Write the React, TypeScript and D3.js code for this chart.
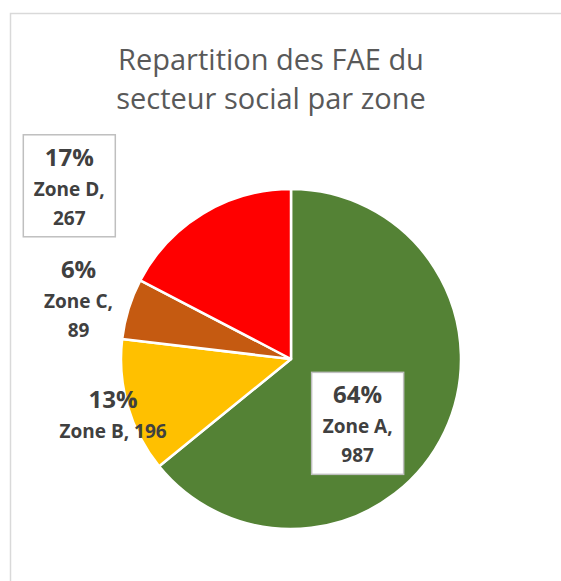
import * as d3 from 'd3';

const ZONES = ['Zone A', 'Zone B', 'Zone C', 'Zone D'];
const COUNTS = [987, 196, 89, 267];
const COLORS = ['#548235', '#FFC000', '#C55A11', '#FF0000'];
const TITLE_LINES = ['Repartition des FAE du', 'secteur social par zone'];

// best-fit label placement (angle in degrees from 12 o'clock, radius as factor of r)
const LABEL_PLACE = [
  { angle: 134, dist: 0.545, boxed: true, wrap: true },
  { angle: 250.5, dist: 1.11, boxed: false, wrap: false },
  { angle: 286, dist: 1.3, boxed: false, wrap: true },
  { angle: 308, dist: 1.655, boxed: true, wrap: true },
];

const WIDTH = 561;
const HEIGHT = 581;
const FONT = "'Open Sans', sans-serif";

export default function App() {
  const cx = 291;
  const cy = 359;
  const radius = 170;

  const total = d3.sum(COUNTS);
  const pie = d3
    .pie<number>()
    .value((d) => d)
    .sort(null);
  const arcs = pie(COUNTS);
  const arc = d3.arc<d3.PieArcDatum<number>>().innerRadius(0).outerRadius(radius);

  return (
    <svg
      width={WIDTH}
      height={HEIGHT}
      style={{ position: 'absolute', left: 0, top: 0, background: '#fff' }}
    >
      {/* chart area border */}
      <path d={`M10.5,${HEIGHT} V13.5 H${WIDTH}`} fill="none" stroke="#d9d9d9" strokeWidth={1.5} />

      <text fill="#595959" fontFamily={FONT} fontSize={29} textAnchor="middle">
        {TITLE_LINES.map((t, i) => (
          <tspan key={t} x={271} y={70 + i * 39}>
            {t}
          </tspan>
        ))}
      </text>

      <g transform={`translate(${cx},${cy})`}>
        {arcs.map((a, i) => (
          <path key={ZONES[i]} d={arc(a) || ''} fill={COLORS[i]} stroke="#fff" strokeWidth={2.5} strokeLinejoin="round" />
        ))}

        {arcs.map((a, i) => {
          const place = LABEL_PLACE[i];
          const theta = (place.angle * Math.PI) / 180;
          const x = Math.sin(theta) * radius * place.dist;
          const y = -Math.cos(theta) * radius * place.dist;
          const pct = `${Math.round((COUNTS[i] / total) * 100)}%`;
          const lines = place.wrap ? [`${ZONES[i]},`, `${COUNTS[i]}`] : [`${ZONES[i]}, ${COUNTS[i]}`];
          const top = place.wrap ? -20 : -14;
          return (
            <g key={ZONES[i]} transform={`translate(${x},${y})`}>
              {place.boxed && (
                <rect x={-46} y={-51} width={92} height={102} fill="#fff" stroke="#bfbfbf" strokeWidth={1.5} />
              )}
              <text textAnchor="middle" fontFamily={FONT} fontWeight="bold" fill="#404040">
                <tspan x={0} y={top} fontSize={24}>
                  {pct}
                </tspan>
                {lines.map((l, j) => (
                  <tspan key={j} x={0} y={top + 30 + j * 29} fontSize={19}>
                    {l}
                  </tspan>
                ))}
              </text>
            </g>
          );
        })}
      </g>
    </svg>
  );
}
